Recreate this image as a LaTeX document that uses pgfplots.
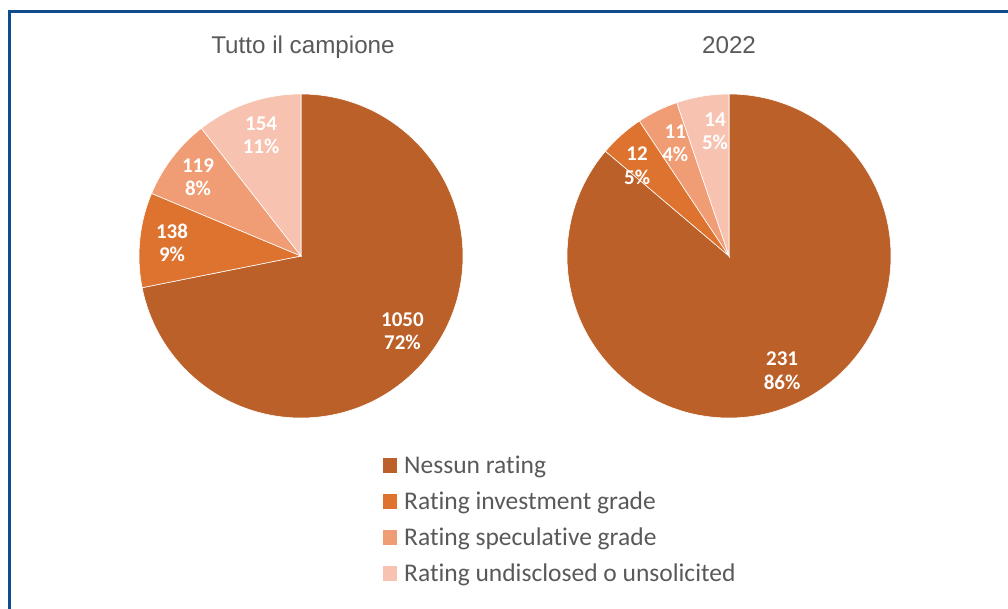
\documentclass[border=0pt]{standalone}
\usepackage{fontspec}
\setmainfont{Liberation Sans}
\newfontfamily\carlito[Ligatures=NoCommon]{Carlito}
\usepackage{pgfplots}
\pgfplotsset{compat=1.18}
\usepackage{pgfplotstable}

\definecolor{c1}{HTML}{BB6029}
\definecolor{c2}{HTML}{DE7330}
\definecolor{c3}{HTML}{F09C74}
\definecolor{c4}{HTML}{F7C3B0}
\definecolor{txt}{HTML}{595959}
\definecolor{frame}{HTML}{0E4C8E}

% counts, percentage shown, colour, label radius, label angle shift
\pgfplotstableread{
n pct col lr ls
1050 72 c1 0.78 2.8
138 9 c2 0.80 0
119 8 c3 0.80 0
154 11 c4 0.785 -0.7
}\tabAll
\pgfplotstableread{
n pct col lr ls
231 86 c1 0.78 0
12 5 c2 0.795 3.9
11 4 c3 0.77 -0.7
14 5 c4 0.775 -3
}\tabYear

\tikzset{lbl/.style={text=white, align=center, inner sep=0pt,
  font=\carlito\bfseries\fontsize{21}{23.5}\selectfont}}

% draws the slices of a table, clockwise from 12 o'clock
\newcommand\piedraw[1]{%
  \pgfplotstablegetrowsof{#1}%
  \pgfmathtruncatemacro\lastrow{\pgfplotsretval-1}%
  \gdef\tot{0}%
  \foreach \i in {0,...,\lastrow}{%
    \pgfplotstablegetelem{\i}{n}\of{#1}%
    \pgfmathsetmacro\t{\tot+\pgfplotsretval}\xdef\tot{\t}}%
  \gdef\cum{0}%
  \foreach \i in {0,...,\lastrow}{%
    \pgfplotstablegetelem{\i}{n}\of{#1}\let\val\pgfplotsretval
    \pgfplotstablegetelem{\i}{pct}\of{#1}\let\pc\pgfplotsretval
    \pgfplotstablegetelem{\i}{col}\of{#1}\let\col\pgfplotsretval
    \pgfplotstablegetelem{\i}{lr}\of{#1}\let\lr\pgfplotsretval
    \pgfplotstablegetelem{\i}{ls}\of{#1}\let\ls\pgfplotsretval
    \pgfmathsetmacro\sa{90-360*(\cum/\tot)}%
    \pgfmathsetmacro\ea{90-360*((\cum+\val)/\tot)}%
    \pgfmathsetmacro\ma{(\sa+\ea)/2+\ls}%
    \pgfmathsetmacro\sx{cos(\sa)}\pgfmathsetmacro\sy{sin(\sa)}%
    \pgfmathsetmacro\lx{\lr*cos(\ma)}\pgfmathsetmacro\ly{\lr*sin(\ma)}%
    \edef\cmd{\noexpand\fill[fill=\col, draw=white, line width=0.6pt]
      (axis cs:0,0) -- (axis cs:\sx,\sy) arc[start angle=\sa, end angle=\ea, radius=162pt] -- cycle;
      \noexpand\node[lbl] at (axis cs:\lx,\ly) {\val\noexpand\\\pc\noexpand\%};}%
    \cmd
    \pgfmathsetmacro\t{\cum+\val}\xdef\cum{\t}}%
}

\pgfplotsset{pie/.style={hide axis, scale only axis, width=324pt, height=324pt,
  xmin=-1, xmax=1, ymin=-1, ymax=1, clip=false, anchor=south west}}

\begin{document}
\begin{tikzpicture}[x=1pt, y=1pt]
\path[use as bounding box] (0,0) rectangle (1008,608);

\begin{axis}[pie, at={(139pt,190pt)}]
\piedraw{\tabAll}
\end{axis}
\begin{axis}[pie, at={(567pt,190pt)}]
\piedraw{\tabYear}
\end{axis}

% titles
\node[anchor=base, text=txt, font=\fontsize{24.2}{28}\selectfont, inner sep=0pt] at (303,554) {Tutto il campione};
\node[anchor=base, text=txt, font=\fontsize{24.2}{28}\selectfont, inner sep=0pt] at (729,554) {2022};

% legend
\foreach \c/\t [count=\k from 0] in {c1/Nessun rating, c2/Rating investment grade,
    c3/Rating speculative grade, c4/Rating undisclosed o unsolicited}{
  \fill[\c] (382.7,135-36*\k) rectangle ++(14.6,14.6);
  \node[anchor=base west, inner sep=0pt, text=txt, font=\carlito\fontsize{25.5}{28}\selectfont]
    at (404,135-36*\k) {\t};
}

% frame
\draw[frame, line width=2.7pt] (1010,596.7) -- (9.7,596.7) -- (9.7,-2);
\end{tikzpicture}
\end{document}
